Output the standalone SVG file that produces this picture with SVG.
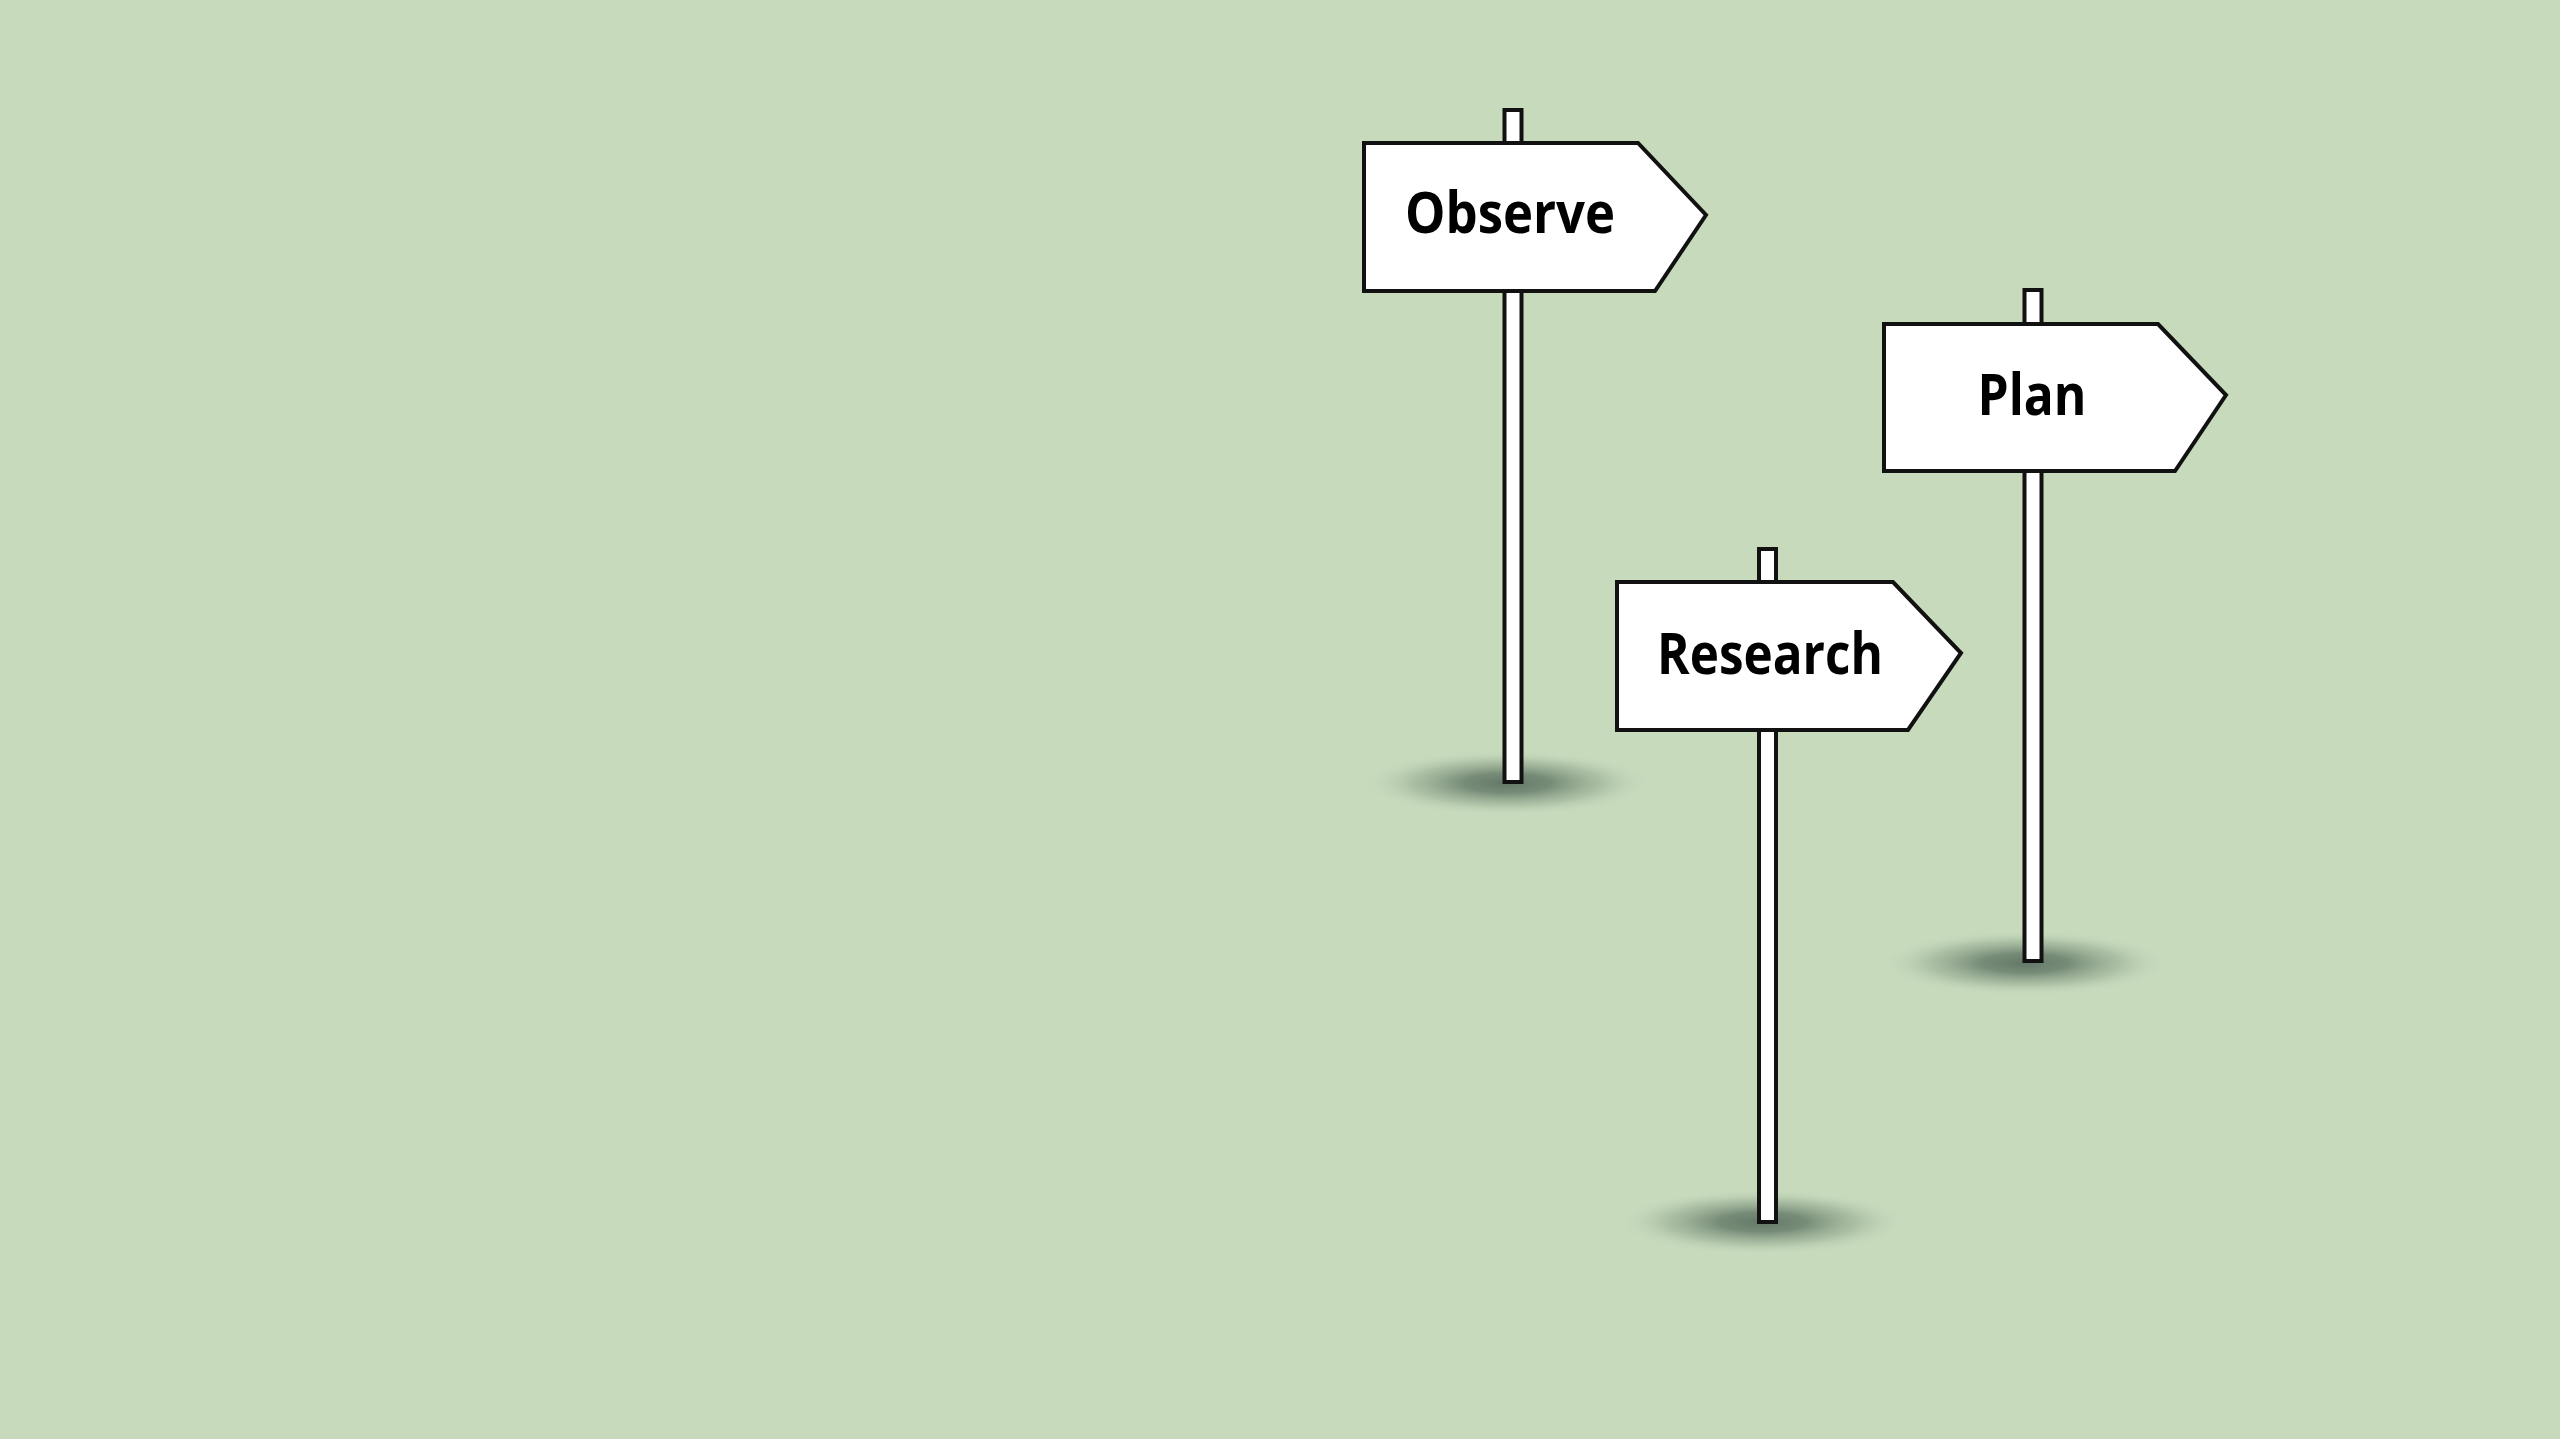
<svg xmlns="http://www.w3.org/2000/svg" width="2560" height="1439" viewBox="0 0 2560 1439">
<defs>
<radialGradient id="shadow" cx="0.5" cy="0.5" r="0.5">
<stop offset="0" stop-color="#64786a" stop-opacity="1"/>
<stop offset="0.3" stop-color="#6c816e" stop-opacity="0.88"/>
<stop offset="0.65" stop-color="#8ea48d" stop-opacity="0.5"/>
<stop offset="1" stop-color="#c8dabc" stop-opacity="0"/>
</radialGradient>
<style>
.post{fill:#ffffff;stroke:#111111;stroke-width:4}
.sign{fill:#ffffff;stroke:#111111;stroke-width:4;stroke-linejoin:miter}
.label{font-family:"Open Sans","Noto Sans","Liberation Sans",sans-serif;font-weight:700;font-size:58px;fill:#000000;text-anchor:middle}
</style>
</defs>
<rect x="0" y="0" width="2560" height="1439" fill="#c8dabc"/>
<g id="connectors"/>
<g id="observe">
<ellipse cx="1507" cy="783" rx="145" ry="33" fill="url(#shadow)"/>
<rect class="post" x="1504.5" y="110" width="17" height="672"/>
<polygon class="sign" points="1364,143 1638,143 1706,215 1655,291 1364,291"/>
<text class="label" x="1510" y="233" textLength="210" lengthAdjust="spacingAndGlyphs">Observe</text>
</g>
<g id="research">
<ellipse cx="1762" cy="1222" rx="145" ry="33" fill="url(#shadow)"/>
<rect class="post" x="1759" y="549" width="17" height="673"/>
<polygon class="sign" points="1617,582 1893,582 1961,653 1908,730 1617,730"/>
<text class="label" x="1770" y="674" textLength="226" lengthAdjust="spacingAndGlyphs">Research</text>
</g>
<g id="plan">
<ellipse cx="2025" cy="963" rx="145" ry="33" fill="url(#shadow)"/>
<rect class="post" x="2024.5" y="290" width="17" height="671"/>
<polygon class="sign" points="1884,324 2158,324 2226,395 2175,471 1884,471"/>
<text class="label" x="2032" y="415" textLength="109" lengthAdjust="spacingAndGlyphs">Plan</text>
</g>
</svg>
